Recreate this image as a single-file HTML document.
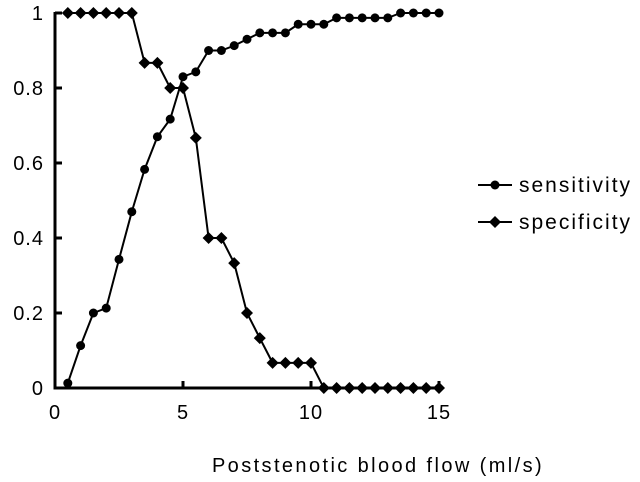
<!DOCTYPE html>
<html><head><meta charset="utf-8"><style>
body{margin:0;background:#fff;}
svg text{font-family:"Liberation Sans",sans-serif;fill:#000;}
</style></head><body>
<svg id="chart" width="640" height="477">
<g id="axes"></g><g id="series"></g><g id="legend"></g>
</svg>
<script>
const xValues=[0.5,1,1.5,2,2.5,3,3.5,4,4.5,5,5.5,6,6.5,7,7.5,8,8.5,9,9.5,10,10.5,11,11.5,12,12.5,13,13.5,14,14.5,15];
const sensitivity=[0.013,0.113,0.2,0.213,0.343,0.47,0.583,0.67,0.717,0.83,0.843,0.9,0.9,0.913,0.93,0.947,0.947,0.947,0.97,0.97,0.97,0.987,0.987,0.987,0.987,0.987,1,1,1,1];
const specificity=[1,1,1,1,1,1,0.867,0.867,0.8,0.8,0.667,0.4,0.4,0.333,0.2,0.133,0.067,0.067,0.067,0.067,0,0,0,0,0,0,0,0,0,0];
const xTicks=[0,5,10,15];
const yTicks=[0,0.2,0.4,0.6,0.8,1];
const yTickLabels=["0","0.2","0.4","0.6","0.8","1"];
const NS="http://www.w3.org/2000/svg";
const X=v=>55+v*25.6, Y=v=>388-v*375;
function mk(tag,attrs,parent){const e=document.createElementNS(NS,tag);for(const k in attrs)e.setAttribute(k,attrs[k]);parent.appendChild(e);return e;}
const axes=document.getElementById('axes'),series=document.getElementById('series'),legend=document.getElementById('legend');
let e=mk('line',{x1:55,y1:12,x2:55,y2:389.5,stroke:'#000','stroke-width':3},axes);

e=mk('line',{x1:53.5,y1:388,x2:442,y2:388,stroke:'#000','stroke-width':3},axes);

yTicks.forEach((t,i)=>{
 e=mk('line',{x1:55,y1:Y(t),x2:62,y2:Y(t),stroke:'#000','stroke-width':3},axes);
 
 e=mk('text',{x:44,y:Y(t)+7,'text-anchor':'end','font-size':20,'letter-spacing':1},axes);e.textContent=yTickLabels[i];
 
});
xTicks.forEach(t=>{
 e=mk('line',{x1:X(t),y1:388,x2:X(t),y2:381,stroke:'#000','stroke-width':3},axes);
 
 e=mk('text',{x:X(t),y:419,'text-anchor':'middle','font-size':20,'letter-spacing':1},axes);e.textContent=String(t);
 
});
e=mk('text',{x:378,y:472,'text-anchor':'middle','font-size':20,'letter-spacing':2.4},axes);e.textContent='Poststenotic blood flow (ml/s)';

function diamond(cx,cy,p){return mk('polygon',{points:`${cx},${cy-6} ${cx+6},${cy} ${cx},${cy+6} ${cx-6},${cy}`,fill:'#000'},p);}
function circ(cx,cy,p){return mk('circle',{cx:cx,cy:cy,r:4.5,fill:'#000'},p);}
function draw(vals,marker,name){
 e=mk('polyline',{points:xValues.map((x,i)=>X(x)+','+Y(vals[i])).join(' '),fill:'none',stroke:'#000','stroke-width':2},series);
 
 xValues.forEach((x,i)=>{const m=marker(X(x),Y(vals[i]),series);
  });
}
draw(specificity,diamond,'specificity');
draw(sensitivity,circ,'sensitivity');
[['sensitivity',185,circ],['specificity',222,diamond]].forEach(([n,y,m])=>{
 e=mk('line',{x1:478,y1:y,x2:512,y2:y,stroke:'#000','stroke-width':2},legend);
 
 e=m(495,y,legend);
 e=mk('text',{x:519,y:y+7,'font-size':21,'letter-spacing':2},legend);e.textContent=n;
 
});
</script>
</body></html>
